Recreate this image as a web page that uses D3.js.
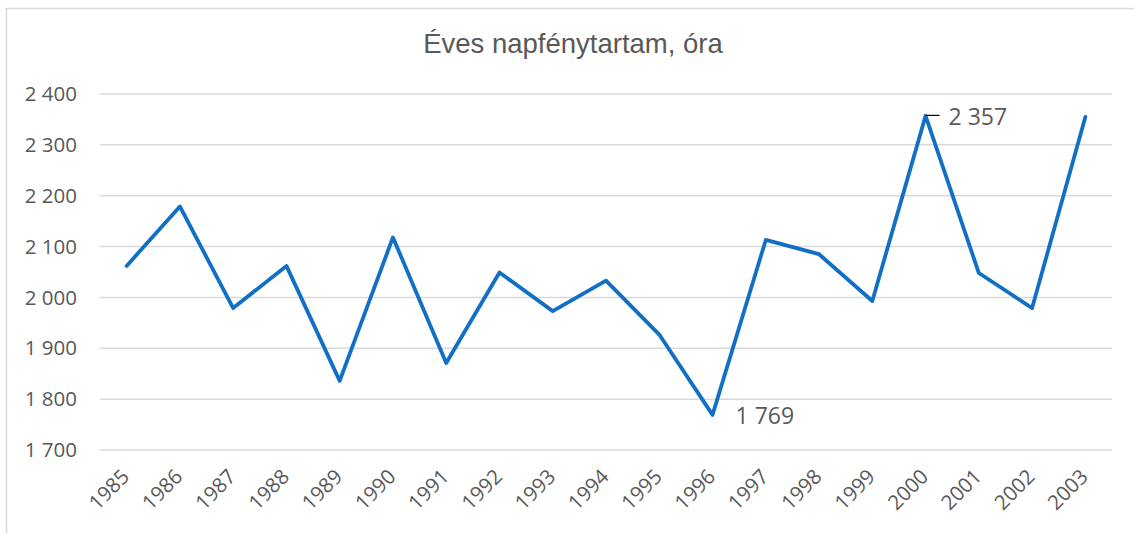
<!DOCTYPE html>
<html>
<head>
<meta charset="utf-8">
<script src="https://cdn.jsdelivr.net/npm/d3@7"></script>
<style>
  body { margin: 0; background: #fff; }
  svg { display: block; }
</style>
</head>
<body>
<svg id="chart"></svg>
<script>
const years = ['1985', '1986', '1987', '1988', '1989', '1990', '1991', '1992', '1993', '1994',
  '1995', '1996', '1997', '1998', '1999', '2000', '2001', '2002', '2003'];
const hours = [2062, 2179, 1979, 2062, 1836, 2118, 1871, 2049, 1973, 2033,
  1927, 1769, 2113, 2085, 1993, 2357, 2048, 1979, 2355];
const yTicks = [1700, 1800, 1900, 2000, 2100, 2200, 2300, 2400];
const labelled = ['1996', '2000'];
const title = 'Éves napfénytartam, óra';

const width = 1134;
const height = 533;
const margin = { top: 94, right: 22, bottom: 83, left: 100 };
const grey = '#595959';
const numFmt = v => d3.format(',d')(v).replace(/,/g, ' ');

const svg = d3.select('#chart')
  .attr('width', width)
  .attr('height', height);

// chart border (only top and left are inside the picture)
svg.append('rect')
  .attr('x', 6.5)
  .attr('y', 8.5)
  .attr('width', 1140)
  .attr('height', 540)
  .attr('fill', 'none')
  .attr('stroke', '#d9d9d9')
  .attr('stroke-width', 1.5);

svg.append('text')
  .attr('x', 573)
  .attr('y', 53)
  .attr('text-anchor', 'middle')
  .attr('font-family', '"Liberation Sans", Arial, sans-serif')
  .attr('font-size', 27.5)
  .attr('fill', grey)
  .text(title);

const x = d3.scaleBand()
  .domain(years)
  .range([margin.left, width - margin.right]);

const y = d3.scaleLinear()
  .domain([1700, 2400])
  .range([height - margin.bottom, margin.top]);

const cx = d => x(d) + x.bandwidth() / 2;

// gridlines
svg.append('g')
  .selectAll('line')
  .data(yTicks)
  .enter()
  .append('line')
  .attr('x1', margin.left)
  .attr('x2', width - margin.right)
  .attr('y1', d => y(d))
  .attr('y2', d => y(d))
  .attr('stroke', '#d9d9d9')
  .attr('stroke-width', 1.5);

// y labels
svg.append('g')
  .attr('font-family', '"Open Sans", sans-serif')
  .attr('font-size', 20.5)
  .attr('fill', grey)
  .attr('text-anchor', 'end')
  .selectAll('text')
  .data(yTicks)
  .enter()
  .append('text')
  .attr('x', margin.left - 23)
  .attr('y', d => y(d))
  .attr('dy', '0.35em')
  .text(d => numFmt(d));

// x labels
svg.append('g')
  .attr('font-family', '"Open Sans", sans-serif')
  .attr('font-size', 20.5)
  .attr('fill', grey)
  .attr('text-anchor', 'end')
  .selectAll('text')
  .data(years)
  .enter()
  .append('text')
  .attr('transform', d => `translate(${cx(d) + 4},${478}) rotate(-45)`)
  .text(d => d);

const line = d3.line()
  .x((d, i) => cx(years[i]))
  .y(d => y(d));

svg.append('path')
  .datum(hours)
  .attr('d', line)
  .attr('fill', 'none')
  .attr('stroke', '#1170c6')
  .attr('stroke-width', 3.8)
  .attr('stroke-linejoin', 'round')
  .attr('stroke-linecap', 'round');

// data labels
const points = years.map((yr, i) => ({ yr, v: hours[i] })).filter(d => labelled.includes(d.yr));

svg.append('g')
  .selectAll('line')
  .data(points.filter(d => d.yr === '2000'))
  .enter()
  .append('line')
  .attr('x1', d => cx(d.yr))
  .attr('x2', d => cx(d.yr) + 14)
  .attr('y1', d => y(d.v) - 0.5)
  .attr('y2', d => y(d.v) - 0.5)
  .attr('stroke', '#000')
  .attr('stroke-width', 1.2);

svg.append('g')
  .attr('font-family', '"Open Sans", sans-serif')
  .attr('font-size', 23)
  .attr('fill', grey)
  .selectAll('text')
  .data(points)
  .enter()
  .append('text')
  .attr('x', d => cx(d.yr) + 23)
  .attr('y', d => y(d.v) + 9.5)
  .text(d => numFmt(d.v));
</script>
</body>
</html>
